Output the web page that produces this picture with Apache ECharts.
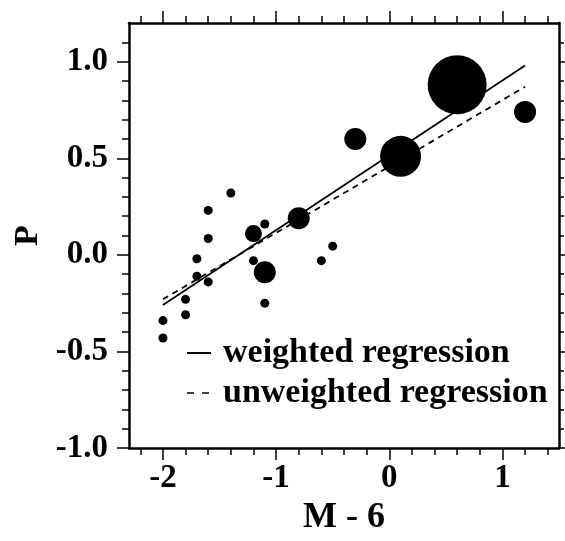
<!DOCTYPE html>
<html>
<head>
<meta charset="utf-8">
<script src="https://cdn.jsdelivr.net/npm/echarts@6/dist/echarts.min.js"></script>
<style>
  html, body { margin: 0; padding: 0; background: #fff; }
  #chart { width: 565px; height: 541px; }
</style>
</head>
<body>
<div id="chart"></div>
<script>
// data
const pointX = [-2.0, -2.0, -1.8, -1.8, -1.7, -1.7, -1.6, -1.6, -1.6, -1.4, -1.2, -1.2, -1.1, -1.1, -1.1, -0.8, -0.6, -0.5, -0.3, 0.1, 0.6, 1.2];
const pointP = [-0.34, -0.43, -0.23, -0.31, -0.02, -0.11, 0.23, 0.085, -0.14, 0.32, 0.11, -0.03, 0.16, -0.09, -0.25, 0.19, -0.03, 0.045, 0.60, 0.51, 0.88, 0.74];
// relative weight of each point (drawn as marker diameter)
const pointWeight = [9, 9, 9, 9, 9, 9, 9, 9, 9, 9, 17, 9, 9, 22, 9, 22, 9, 9, 22, 41, 59, 22];

const weightedLine = [[-2.0, -0.26], [1.2, 0.98]];
const unweightedLine = [[-2.0, -0.23], [1.2, 0.87]];

const xMajor = [-2, -1, 0, 1];
const xMinor = [-2.2, -1.8, -1.6, -1.4, -1.2, -0.8, -0.6, -0.4, -0.2, 0.2, 0.4, 0.6, 0.8, 1.2, 1.4];
const yMajor = [-1.0, -0.5, 0.0, 0.5, 1.0];
const yMinor = [-0.9, -0.8, -0.7, -0.6, -0.4, -0.3, -0.2, -0.1, 0.1, 0.2, 0.3, 0.4, 0.6, 0.7, 0.8, 0.9, 1.1];

const FONT = 'Liberation Serif';
const X_MIN = -2.3, X_MAX = 1.5, Y_MIN = -1.0, Y_MAX = 1.2;

// one axis per tick family (major / minor, each side)
function tickAxis(pos, min, max, ticks, len, showLine, opts) {
  return Object.assign({
    type: 'value', position: pos, min: min, max: max,
    splitLine: { show: false },
    axisLine: { show: showLine, onZero: false, lineStyle: { color: '#000', width: 2.5 } },
    axisTick: { show: true, inside: false, length: len, customValues: ticks, lineStyle: { color: '#000', width: 1.5 } },
    axisLabel: { show: false }
  }, opts || {});
}

const chart = echarts.init(document.getElementById('chart'), null, { renderer: 'canvas' });

const labelStyle = { fontFamily: FONT, fontWeight: 'bold', fontSize: 33, color: '#000' };

const option = {
  animation: false,
  grid: { left: 129, right: 6, top: 23, bottom: 84 },
  xAxis: [
    tickAxis('bottom', X_MIN, X_MAX, xMajor, 12, true, {
      axisLabel: Object.assign({ show: true, customValues: xMajor, margin: 14, formatter: v => String(v) }, labelStyle),
      name: 'M - 6', nameLocation: 'middle', nameGap: 46,
      nameTextStyle: { fontFamily: FONT, fontWeight: 'bold', fontSize: 36, color: '#000' }
    }),
    tickAxis('bottom', X_MIN, X_MAX, xMinor, 7, false),
    tickAxis('top', X_MIN, X_MAX, xMajor, 12, true),
    tickAxis('top', X_MIN, X_MAX, xMinor, 7, false)
  ],
  yAxis: [
    tickAxis('left', Y_MIN, Y_MAX, yMajor, 12, true, {
      axisLabel: Object.assign({ show: true, customValues: yMajor, margin: 21, formatter: v => v.toFixed(1) }, labelStyle),
      name: 'P', nameLocation: 'middle', nameGap: 82, nameRotate: 90,
      nameTextStyle: { fontFamily: FONT, fontWeight: 'bold', fontSize: 34, color: '#000' }
    }),
    tickAxis('left', Y_MIN, Y_MAX, yMinor, 7, false),
    tickAxis('right', Y_MIN, Y_MAX, yMajor, 7, true),
    tickAxis('right', Y_MIN, Y_MAX, yMinor, 5, false)
  ],
  legend: {
    orient: 'vertical', left: 181, top: 331, itemGap: 6,
    itemWidth: 24, itemHeight: 14,
    data: [
      { name: 'weighted regression', lineStyle: { width: 2 } },
      { name: 'unweighted regression', lineStyle: { width: 1.5, type: [7, 8] } }
    ],
    itemStyle: { opacity: 0 },
    textStyle: { fontFamily: FONT, fontWeight: 'bold', fontSize: 34, color: '#000', padding: [0, 0, 0, 7] }
  },
  series: [
    {
      name: 'points', type: 'scatter',
      data: pointX.map((x, i) => [x, pointP[i], pointWeight[i]]),
      symbolSize: d => d[2],
      itemStyle: { color: '#000', opacity: 1 },
      z: 3
    },
    {
      name: 'weighted regression', type: 'line', data: weightedLine,
      symbol: 'none', itemStyle: { color: '#000' },
      lineStyle: { color: '#000', width: 1.8, type: 'solid' }, z: 2
    },
    {
      name: 'unweighted regression', type: 'line', data: unweightedLine,
      symbol: 'none', itemStyle: { color: '#000' },
      lineStyle: { color: '#000', width: 1.8, type: [6, 5] }, z: 2
    }
  ]
};

chart.setOption(option);
</script>
</body>
</html>
